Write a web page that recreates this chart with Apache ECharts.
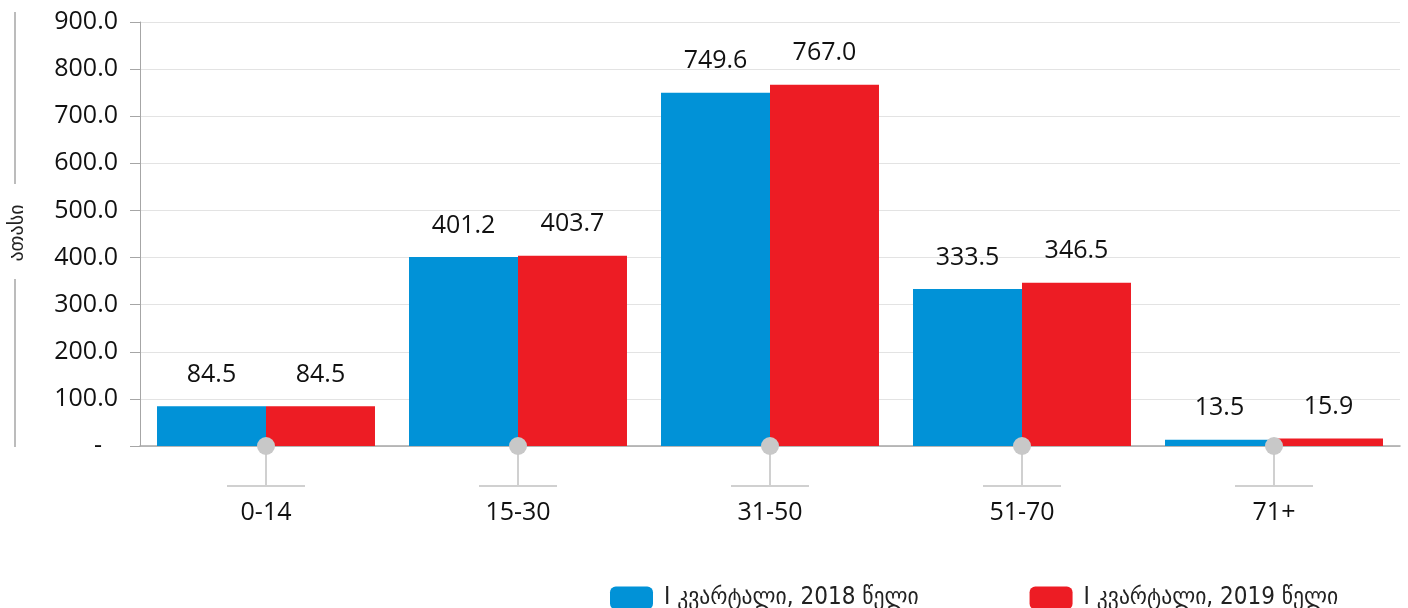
<!DOCTYPE html>
<html><head><meta charset="utf-8">
<script src="https://cdn.jsdelivr.net/npm/echarts@6/dist/echarts.min.js"></script>
<style>html,body{margin:0;padding:0;background:#fff}#c{width:1408px;height:608px}</style>
</head><body><div id="c"></div>
<script>
const categories = ['0-14', '15-30', '31-50', '51-70', '71+'];
const series2018 = [84.5, 401.2, 749.6, 333.5, 13.5];
const series2019 = [84.5, 403.7, 767.0, 346.5, 15.9];
const seriesNames = ['I კვარტალი, 2018 წელი', 'I კვარტალი, 2019 წელი'];
const yAxisName = 'ათასი';
const FONT = '"Open Sans", "Noto Sans", sans-serif';

const chart = echarts.init(document.getElementById('c'));
const labelCfg = {
  show: true, position: 'top', distance: 19,
  fontFamily: FONT, fontSize: 25, color: '#111',
  formatter: p => p.value.toFixed(1)
};
chart.setOption({
  animation: false,
  grid: { left: 140, right: 8, top: 22, bottom: 162 },
  legend: {
    data: seriesNames, left: 605, top: 581, itemWidth: 43, itemHeight: 23, itemGap: 111,
    icon: 'roundRect',
    textStyle: { fontFamily: '"DejaVu Sans Condensed", "DejaVu Sans", sans-serif', fontSize: 24, lineHeight: 20, color: '#222', padding: [0, 0, 4, 6] }
  },
  xAxis: {
    type: 'category', data: categories,
    axisLine: { lineStyle: { color: '#a6a6a6', width: 1.5 } },
    axisTick: { show: false },
    axisLabel: { margin: 54, fontFamily: FONT, fontSize: 25, color: '#111' }
  },
  yAxis: {
    type: 'value', min: 0, max: 900, interval: 100,
    axisLine: { show: true, lineStyle: { color: '#a6a6a6' } },
    axisTick: { show: true, length: 10, lineStyle: { color: '#a6a6a6' } },
    splitLine: { lineStyle: { color: '#e3e3e3' } },
    axisLabel: {
      margin: 22, fontFamily: FONT, fontSize: 25, color: '#111',
      formatter: v => v === 0 ? '{d|-}' : v.toFixed(1),
      rich: { d: { fontFamily: FONT, fontSize: 25, color: '#111', padding: [0, 16, 0, 0] } }
    }
  },
  graphic: [
    { type: 'line', shape: { x1: 15, y1: 12, x2: 15, y2: 184 }, style: { stroke: '#a6a6a6', lineWidth: 1.5 } },
    { type: 'line', shape: { x1: 15, y1: 279, x2: 15, y2: 447 }, style: { stroke: '#a6a6a6', lineWidth: 1.5 } },
    { type: 'text', x: 18, y: 233, rotation: Math.PI / 2,
      style: { text: yAxisName, fontFamily: '"DejaVu Sans", sans-serif', fontSize: 20, fill: '#222', align: 'center', verticalAlign: 'middle' } }
  ],
  series: [
    { name: seriesNames[0], type: 'bar', data: series2018, barGap: '0%', barCategoryGap: '13.5%',
      itemStyle: { color: '#0192d7' }, label: labelCfg },
    { name: seriesNames[1], type: 'bar', data: series2019,
      itemStyle: { color: '#ed1c24' }, label: labelCfg },
    { name: 'deco', type: 'custom', data: categories.map((c, i) => [i, 0]), z: 5,
      renderItem: (params, api) => {
        const p = api.coord([api.value(0), 0]);
        return { type: 'group', children: [
          { type: 'line', shape: { x1: p[0], y1: p[1], x2: p[0], y2: p[1] + 40 }, style: { stroke: '#d0d0d0', lineWidth: 2 } },
          { type: 'line', shape: { x1: p[0] - 39, y1: p[1] + 40, x2: p[0] + 39, y2: p[1] + 40 }, style: { stroke: '#d0d0d0', lineWidth: 2 } },
          { type: 'circle', shape: { cx: p[0], cy: p[1], r: 9 }, style: { fill: '#c8c8c8' } }
        ] };
      }
    }
  ]
});
</script></body></html>
